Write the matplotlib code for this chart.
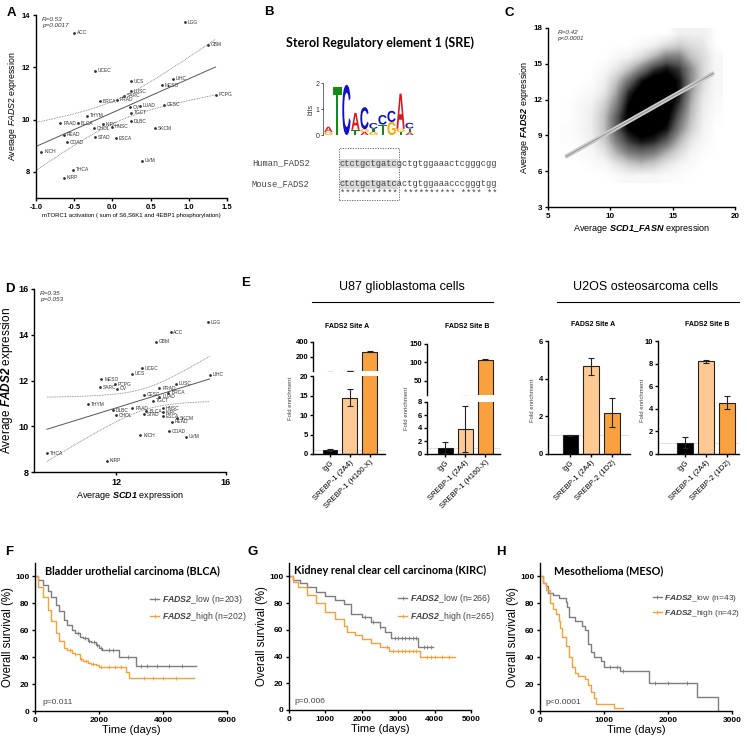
import numpy as np
import matplotlib
matplotlib.use('Agg')
import matplotlib.pyplot as plt
import matplotlib.transforms as mtransforms
from matplotlib.patches import Rectangle, PathPatch
from matplotlib.textpath import TextPath
from matplotlib.font_manager import FontProperties
from matplotlib.lines import Line2D

plt.rcParams['font.family'] = ['Liberation Sans', 'DejaVu Sans']
plt.rcParams['mathtext.fontset'] = 'custom'
plt.rcParams['mathtext.rm'] = 'Liberation Sans'
plt.rcParams['mathtext.it'] = 'Liberation Sans:italic'
plt.rcParams['mathtext.bf'] = 'Liberation Sans:bold'
plt.rcParams['mathtext.bfit'] = 'Liberation Sans:italic:bold'

# ---------------- data ----------------
# A: mTORC1 activation vs FADS2
a_names = ['ACC', 'LGG', 'GBM', 'UCEC', 'UCS', 'LIHC', 'MESO', 'LUSC', 'SARC', 'PRAD', 'BRCA',
           'PCPG', 'CESC', 'OV', 'LUAD', 'TGCT', 'THYM', 'DLBC', 'KIRC', 'BLCA', 'PAAD', 'CHOL',
           'HNSC', 'SKCM', 'READ', 'COAD', 'STAD', 'ESCA', 'KICH', 'UVM', 'THCA', 'KIRP']
a_x = [-0.50, 0.95, 1.25, -0.23, 0.24, 0.79, 0.65, 0.24, 0.15, 0.06, -0.16,
       1.35, 0.67, 0.23, 0.36, 0.24, -0.33, 0.24, -0.12, -0.45, -0.68, -0.24,
       -0.01, 0.56, -0.64, -0.59, -0.23, 0.05, -0.93, 0.39, -0.52, -0.64]
a_y = [13.33, 13.72, 12.87, 11.86, 11.47, 11.56, 11.32, 11.09, 10.91, 10.76, 10.71,
       10.94, 10.56, 10.47, 10.53, 10.27, 10.15, 9.94, 9.83, 9.85, 9.85, 9.67,
       9.73, 9.67, 9.41, 9.13, 9.32, 9.28, 8.77, 8.42, 8.08, 7.78]

# B: SRE motif logo (bottom -> top per position) and alignment
logo_cols = [
    [('G', 0.12), ('A', 0.2)],
    [('T', 1.85)],
    [('C', 1.93)],
    [('T', 0.2), ('A', 0.65)],
    [('A', 0.12), ('G', 0.1), ('C', 0.85)],
    [('G', 0.12), ('T', 0.12), ('C', 0.22)],
    [('T', 0.4), ('C', 0.37)],
    [('G', 0.5), ('C', 0.43)],
    [('T', 0.12), ('G', 0.12), ('A', 1.35)],
    [('A', 0.1), ('T', 0.15), ('C', 0.22)],
]
logo_colors = {'A': '#D7191C', 'C': '#1010C8', 'G': '#F5A800', 'T': '#138A13'}
seq_names = ['Human_FADS2', 'Mouse_FADS2']
seqs = ['ctctgctgatcgctgtggaaactcgggcgg', 'ctctgctgatcactgtggaaacccgggtgg']
sre_len = 11

# C: density of tumour samples (rows y=17.5 .. 5.5, cols x=6.5 .. 18.5)
c_density = [
    [0, 0, 0, 0, 0, 0, 0, 0, 0, 0.1, 0.1, 0.1, 0],
    [0, 0, 0, 0, 0, 0, 0.05, 0.1, 0.2, 0.25, 0.2, 0.15, 0],
    [0, 0, 0, 0, 0.05, 0.1, 0.2, 0.35, 0.5, 0.5, 0.3, 0.2, 0.05],
    [0, 0, 0, 0.05, 0.15, 0.3, 0.5, 0.7, 0.8, 0.7, 0.45, 0.2, 0.05],
    [0, 0, 0.02, 0.1, 0.3, 0.55, 0.8, 0.95, 0.95, 0.8, 0.45, 0.2, 0.05],
    [0, 0.02, 0.05, 0.15, 0.4, 0.75, 0.95, 1, 1, 0.8, 0.4, 0.15, 0.05],
    [0, 0.05, 0.1, 0.25, 0.5, 0.85, 1, 1, 0.95, 0.7, 0.35, 0.12, 0.03],
    [0, 0.05, 0.12, 0.3, 0.6, 0.9, 1, 1, 0.9, 0.6, 0.3, 0.1, 0.02],
    [0.02, 0.05, 0.12, 0.3, 0.6, 0.85, 0.95, 0.9, 0.8, 0.5, 0.25, 0.08, 0],
    [0.02, 0.03, 0.1, 0.25, 0.5, 0.7, 0.8, 0.75, 0.6, 0.35, 0.15, 0.05, 0],
    [0, 0.02, 0.05, 0.15, 0.35, 0.5, 0.55, 0.5, 0.35, 0.2, 0.08, 0.02, 0],
    [0, 0, 0.02, 0.05, 0.15, 0.25, 0.3, 0.25, 0.15, 0.08, 0.03, 0, 0],
    [0, 0, 0, 0, 0.03, 0.06, 0.05, 0.05, 0.03, 0.02, 0, 0, 0],
]
c_fit = [0.59, 3.43]      # slope, intercept
c_fit_range = [6.4, 18.3]

# D: SCD1 vs FADS2
d_names = ['LGG', 'ACC', 'GBM', 'UCEC', 'UCS', 'LIHC', 'MESO', 'PCPG', 'SARC', 'OV', 'THYM',
           'LUSC', 'PRAD', 'BRCA', 'CESC', 'LUAD', 'TGCT', 'DLBC', 'PAAD', 'BLCA', 'HNSC', 'KIRC',
           'CHOL', 'STAD', 'ESCA', 'SKCM', 'READ', 'COAD', 'KICH', 'UVM', 'THCA', 'KIRP']
d_x = [15.33, 13.98, 13.43, 12.94, 12.57, 15.40, 11.46, 11.94, 11.39, 12.04, 10.96,
       14.17, 13.57, 13.90, 13.02, 13.57, 13.35, 11.88, 12.59, 13.10, 13.69, 13.71,
       12.00, 13.00, 13.71, 14.20, 14.02, 13.93, 12.88, 14.54, 9.47, 11.66]
d_y = [14.54, 14.10, 13.69, 12.54, 12.29, 12.26, 12.05, 11.83, 11.70, 11.64, 10.97,
       11.85, 11.66, 11.47, 11.38, 11.29, 11.12, 10.71, 10.78, 10.66, 10.78, 10.61,
       10.49, 10.53, 10.44, 10.34, 10.20, 9.79, 9.61, 9.54, 8.81, 8.49]

# E: ChIP fold enrichment
e_labels_u87 = ['IgG', 'SREBP-1 (2A4)', 'SREBP-1 (H160-X)']
e_labels_u2os = ['IgG', 'SREBP-1 (2A4)', 'SREBP-2 (1D2)']
e_u87_a = [1.0, 14.4, 272]
e_u87_a_err = [0.3, 2.2, 12]
e_u87_b = [1.0, 3.85, 107]
e_u87_b_err = [0.9, 3.55, 1.2]
e_u2os_a = [1.0, 4.65, 2.2]
e_u2os_a_err = [0.03, 0.45, 0.75]
e_u2os_b = [1.0, 8.2, 4.55]
e_u2os_b_err = [0.5, 0.12, 0.6]
bar_colors = ['#000000', '#FFC994', '#F9A03F']

# F-H: Kaplan-Meier (time in days, survival %)
f_low_t = [0, 100, 250, 400, 500, 650, 750, 900, 1000, 1150, 1250, 1400, 1500, 1650, 1750, 1900, 2000, 2100, 2620, 3150, 5040]
f_low_s = [100, 97, 94, 89, 85, 79, 74, 68, 64, 60, 58, 55, 54, 52, 51, 49, 47, 45, 40, 33.5, 33.5]
f_high_t = [0, 100, 250, 400, 500, 650, 750, 900, 1000, 1150, 1250, 1400, 1500, 1650, 1750, 1900, 2000, 2840, 2940, 4960]
f_high_s = [100, 92, 85, 75, 67, 58, 52, 47, 45, 43, 42, 39, 37, 36, 35, 34, 33, 29, 24.5, 24.5]
f_low_cens = [1350, 1550, 1700, 1850, 1950, 2050, 2300, 2450, 2900, 3300, 3500, 3800, 4200, 4600]
f_high_cens = [1100, 1250, 1450, 1600, 1800, 2050, 2300, 2500, 2700, 3400, 3700, 4000, 4400]

g_low_t = [0, 100, 300, 500, 750, 1000, 1250, 1500, 1700, 2000, 2250, 2500, 2650, 2800, 3550, 3950]
g_low_s = [100, 97, 95, 92, 88, 85, 82, 79, 72, 69.5, 66, 62, 58, 54, 47.5, 47.5]
g_high_t = [0, 100, 250, 500, 750, 1000, 1250, 1500, 1600, 1800, 2000, 2250, 2500, 2750, 3600, 4550]
g_high_s = [100, 96, 92, 86, 80, 73, 68, 63, 58, 56, 53, 50, 47, 44, 40, 40]
g_low_cens = [2100, 2300, 2500, 2900, 3000, 3100, 3200, 3300, 3400, 3500, 3700, 3800, 3900]
g_high_cens = [2700, 2850, 3000, 3100, 3200, 3300, 3400, 3500, 3800, 3900, 4000, 4200, 4400]

h_low_t = [0, 50, 100, 120, 200, 300, 400, 420, 450, 550, 650, 700, 750, 800, 850, 950, 1000, 1250, 1700, 2450, 2780]
h_low_s = [100, 95, 93, 88, 86, 84, 81, 77, 70, 67, 63, 60, 50, 44, 40, 37, 33, 30, 21, 10.5, 0]
h_high_t = [0, 50, 100, 150, 200, 250, 300, 320, 350, 400, 450, 500, 550, 600, 700, 750, 800, 850, 880, 1150, 1300]
h_high_s = [100, 95, 90, 80, 76, 72, 67, 62, 55, 48, 40, 33, 28, 26, 24, 19, 14, 10, 5, 2.5, 2.5]
h_low_cens = [1100, 1200, 1300, 1800, 2000, 2300]
h_high_cens = []

GRAY = '#7d7d7d'
ORANGE = '#F7A03A'

# ---------------- helpers ----------------
W, H = 747, 743
fig = plt.figure(figsize=(W / 100, H / 100), dpi=100)


def add_ax(x0, y0, x1, y1):
    return fig.add_axes([x0 / W, 1 - y1 / H, (x1 - x0) / W, (y1 - y0) / H])


def ftext(x, y, s, **kw):
    return fig.text(x / W, 1 - y / H, s, **kw)


def style(ax, fs=5.5, lw=1.0, pad=1.5):
    for s in ['top', 'right']:
        ax.spines[s].set_visible(False)
    for s in ['left', 'bottom']:
        ax.spines[s].set_linewidth(lw)
    ax.tick_params(width=lw, length=2.5, labelsize=fs, pad=pad)
    for lab in ax.get_xticklabels() + ax.get_yticklabels():
        lab.set_fontweight('bold')


def fit_band(ax, x, y, xs, tval=2.04):
    x = np.asarray(x)
    y = np.asarray(y)
    b, a = np.polyfit(x, y, 1)
    res = y - (a + b * x)
    s = np.sqrt(np.sum(res ** 2) / (len(x) - 2))
    sxx = np.sum((x - x.mean()) ** 2)
    yh = a + b * xs
    se = s * np.sqrt(1 / len(x) + (xs - x.mean()) ** 2 / sxx)
    ax.plot(xs, yh, color='#555555', lw=0.7)
    ax.plot(xs, yh + tval * se, color='#777777', lw=0.6, ls=(0, (1, 1)))
    ax.plot(xs, yh - tval * se, color='#777777', lw=0.6, ls=(0, (1, 1)))


letter_font = FontProperties(family='Liberation Sans', weight='bold')


def logo_letter(ax, ch, x, y, h, color):
    tp = TextPath((0, 0), ch, size=1, prop=letter_font)
    bb = tp.get_extents()
    t = mtransforms.Affine2D().translate(-bb.x0, -bb.y0).scale(0.92 / bb.width, h / bb.height).translate(x - 0.46, y)
    ax.add_patch(PathPatch(t.transform_path(tp), fc=color, ec='none'))


# ---------------- panel letters ----------------
for lt, (px, py) in zip('ABCDEFGH', [(11, 13), (269, 12), (509, 13), (10, 289),
                                     (246, 283), (9, 552), (253, 552), (501, 552)]):
    ftext(px, py, lt, fontsize=9.5, fontweight='bold', ha='center', va='center')

# ---------------- A ----------------
ax = add_ax(36, 15, 227, 198)
ax.plot(a_x, a_y, 'o', ms=1.0, color='#333333')
for n, x, y in zip(a_names, a_x, a_y):
    ax.annotate(n, (x, y), xytext=(2, 0), textcoords='offset points', fontsize=3.5,
                va='center', color='#333333')
fit_band(ax, a_x, a_y, np.linspace(-1, max(a_x), 100))
ax.set_xlim(-1, 1.5)
ax.set_ylim(7, 14)
ax.set_xticks([-1.0, -0.5, 0.0, 0.5, 1.0, 1.5])
ax.set_yticks([8, 10, 12, 14])
ax.xaxis.set_major_formatter(matplotlib.ticker.FormatStrFormatter('%.1f'))
style(ax, fs=5.5)
ax.set_xlabel('mTORC1 activation ( sum of S6,S6K1 and 4EBP1 phosphorylation)', fontsize=4.3, labelpad=2)
ax.set_ylabel(r'Average $\mathit{FADS2}$ expression', fontsize=6.3, labelpad=2)
ax.text(0.03, 0.99, 'R=0.53\np=0.0017', transform=ax.transAxes, fontsize=4.6, style='italic',
        va='top', color='#333333', linespacing=1.3)

# ---------------- B ----------------
ftext(380, 43, 'Sterol Regulatory element 1 (SRE)', fontsize=9.0, fontweight='bold',
      family=['Lato', 'DejaVu Sans'], ha='center', va='center')
lax = add_ax(323, 83, 415, 135)
for i, col in enumerate(logo_cols):
    base = 0.0
    for ch, h in col:
        logo_letter(lax, ch, i + 1, base, h, logo_colors[ch])
        base += h
lax.set_xlim(0.4, 10.6)
lax.set_ylim(0, 2)
for s in ['top', 'right', 'bottom']:
    lax.spines[s].set_visible(False)
lax.spines['left'].set_color('#555555')
lax.spines['left'].set_linewidth(0.6)
lax.set_xticks([])
lax.set_yticks([0, 1, 2])
lax.tick_params(axis='y', labelsize=5, length=1.5, width=0.6, pad=1, colors='#333333')
lax.set_ylabel('bits', fontsize=5, labelpad=1, color='#333333')

mono = ['Liberation Mono', 'DejaVu Sans Mono']
mfs = 6.3
cw = mfs * 0.6 * 100 / 72
seq_x0 = 340
row_y = [163, 184]
for name, seq, yy in zip(seq_names, seqs, row_y):
    ftext(252, yy, name, family=mono, fontsize=mfs, color='#444444', va='center')
    fig.add_artist(Rectangle((seq_x0 / W, 1 - (yy + 4.5) / H), sre_len * cw / W, 9 / H,
                             transform=fig.transFigure, fc='#d9d9d9', ec='none', zorder=0))
    ftext(seq_x0, yy, seq, family=mono, fontsize=mfs, color='#444444', va='center')
stars = ''.join('*' if a == b else ' ' for a, b in zip(seqs[0], seqs[1]))
ftext(seq_x0, 194, stars, family=mono, fontsize=mfs, color='#444444', va='center')
fig.add_artist(Rectangle(((seq_x0 - 1) / W, 1 - 200 / H), (sre_len * cw + 2) / W, 52 / H,
                         transform=fig.transFigure, fill=False, ec='#555555', lw=0.6,
                         ls=(0, (1.5, 1.5))))

# ---------------- C ----------------
ax = add_ax(548, 28, 735, 207)
ax.imshow(np.array(c_density), extent=(6, 19, 5, 18), origin='upper', cmap='Greys',
          vmin=0, vmax=0.85, interpolation='bilinear', aspect='auto', zorder=1)
xs = np.array(c_fit_range)
ax.plot(xs, c_fit[0] * xs + c_fit[1], color='#cccccc', lw=3.2, zorder=2, solid_capstyle='butt')
ax.plot(xs, c_fit[0] * xs + c_fit[1], color='#8a8a8a', lw=0.6, zorder=3)
ax.set_xlim(5, 20)
ax.set_ylim(3, 18)
ax.set_xticks([5, 10, 15, 20])
ax.set_yticks([3, 6, 9, 12, 15, 18])
style(ax, fs=5.8)
ax.set_xlabel(r'Average $\mathbfit{SCD1\_FASN}$ expression', fontsize=6.5, labelpad=2)
ax.set_ylabel(r'Average $\mathbfit{FADS2}$ expression', fontsize=6.5, labelpad=2)
ax.text(0.05, 0.99, 'R=0.42\np<0.0001', transform=ax.transAxes, fontsize=4.6, style='italic',
        va='top', color='#333333', linespacing=1.3)

# ---------------- D ----------------
ax = add_ax(34, 289, 226, 472)
ax.plot(d_x, d_y, 'o', ms=1.0, color='#333333')
for n, x, y in zip(d_names, d_x, d_y):
    ax.annotate(n, (x, y), xytext=(2, 0), textcoords='offset points', fontsize=3.5,
                va='center', color='#333333')
fit_band(ax, d_x, d_y, np.linspace(min(d_x), max(d_x), 100))
ax.set_xlim(9, 16)
ax.set_ylim(8, 16)
ax.set_xticks([12, 16])
ax.set_yticks([8, 10, 12, 14, 16])
style(ax, fs=6.5)
ax.set_xlabel(r'Average $\mathbfit{SCD1}$ expression', fontsize=6.5, labelpad=2)
ax.set_ylabel(r'Average $\mathbfit{FADS2}$ expression', fontsize=8.5, labelpad=2)
ax.text(0.03, 0.99, 'R=0.35\np=0.053', transform=ax.transAxes, fontsize=4.6, style='italic',
        va='top', color='#333333', linespacing=1.3)

# ---------------- E ----------------
ftext(402, 287, 'U87 glioblastoma cells', fontsize=9, ha='center', va='center')
ftext(646, 287, 'U2OS osteosarcoma cells', fontsize=9, ha='center', va='center')
fig.add_artist(Line2D([312 / W, 493 / W], [1 - 302 / H] * 2, color='k', lw=0.8))
fig.add_artist(Line2D([557 / W, 739 / W], [1 - 302 / H] * 2, color='k', lw=0.8))


def draw_bars(ax, vals, errs, xlim):
    xpos = np.arange(len(vals))
    ax.axhline(1, color='#dddddd', lw=0.6, zorder=0)
    ax.bar(xpos, vals, width=0.75, color=bar_colors, edgecolor='#222222', lw=0.8, zorder=2)
    ax.errorbar(xpos, vals, yerr=errs, fmt='none', ecolor='#222222', elinewidth=0.8,
                capsize=2.2, capthick=0.8, zorder=3)
    ax.set_xlim(*xlim)


def bar_xlabels(ax, labels):
    ax.set_xticks(range(len(labels)))
    ax.set_xticklabels(labels, rotation=45, ha='right', rotation_mode='anchor', fontsize=3.8)


def broken(lower_box, upper_box, vals, errs, xlim, low_lim, up_lim, low_ticks, up_ticks, labels):
    lo = add_ax(*lower_box)
    up = add_ax(*upper_box)
    draw_bars(lo, vals, errs, xlim)
    draw_bars(up, vals, errs, xlim)
    lo.set_ylim(*low_lim)
    up.set_ylim(*up_lim)
    lo.set_yticks(low_ticks)
    up.set_yticks(up_ticks)
    bar_xlabels(lo, labels)
    up.set_xticks([])
    style(lo, fs=5.5, pad=1)
    style(up, fs=5.5, pad=1)
    up.spines['bottom'].set_visible(False)
    for lab in lo.get_xticklabels():
        lab.set_fontweight('normal')
    return lo, up


broken((313, 376, 385, 454), (313, 342, 385, 370.5), e_u87_a, e_u87_a_err, (-0.86, 2.78),
       (0, 20), (20, 400), [0, 5, 10, 15, 20], [200, 400], e_labels_u87)
broken((427, 402, 500, 454), (427, 344, 500, 395), e_u87_b, e_u87_b_err, (-0.9, 2.75),
       (0, 8), (11, 150), [0, 2, 4, 6, 8], [50, 100, 150], e_labels_u87)

for box, vals, errs, xlim, ylim, yt in [
        ((548, 341, 630, 454), e_u2os_a, e_u2os_a_err, (-1.07, 2.85), (0, 6), [0, 2, 4, 6]),
        ((658, 341, 739, 454), e_u2os_b, e_u2os_b_err, (-1.29, 2.57), (0, 10), [0, 2, 4, 6, 8, 10])]:
    ax = add_ax(*box)
    draw_bars(ax, vals, errs, xlim)
    ax.set_ylim(*ylim)
    ax.set_yticks(yt)
    bar_xlabels(ax, e_labels_u2os)
    style(ax, fs=5.5, pad=1)
    for lab in ax.get_xticklabels():
        lab.set_fontweight('normal')

for (tx, ty, t) in [(347, 327, 'FADS2 Site A'), (467, 327, 'FADS2 Site B'),
                    (593, 324, 'FADS2 Site A'), (707, 324, 'FADS2 Site B')]:
    ftext(tx, ty, t, fontsize=5, fontweight='bold', ha='center', va='center')
for (lx, ly) in [(291, 398), (407, 408), (533, 400), (643, 400)]:
    ftext(lx, ly, 'Fold enrichment', fontsize=4.3, color='#444444', rotation=90,
          ha='center', va='center')

# ---------------- F-H ----------------


def km(ax, t, s, cens, color):
    t = np.asarray(t)
    s = np.asarray(s)
    ax.step(t, s, where='post', color=color, lw=1.0)
    if len(cens):
        c = np.asarray(cens)
        cy = s[np.searchsorted(t, c, side='right') - 1]
        ax.plot(c, cy, '|', color=color, ms=2.5, mew=0.6)


surv_panels = [
    ((35, 563, 227, 711), 6000, [0, 2000, 4000, 6000], 'Bladder urothelial carcinoma (BLCA)',
     (0.05, 0.95, 'left'), 'p=0.011', (0.04, 0.055), (0.6, 0.80), 6.3, (203, 202),
     (f_low_t, f_low_s, f_low_cens), (f_high_t, f_high_s, f_high_cens)),
    ((289, 563, 471, 710), 5000, [0, 1000, 2000, 3000, 4000, 5000], 'Kidney renal clear cell carcinoma (KIRC)',
     (0.03, 0.95, 'left'), 'p=0.006', (0.03, 0.055), (0.6, 0.80), 6.3, (266, 265),
     (g_low_t, g_low_s, g_low_cens), (g_high_t, g_high_s, g_high_cens)),
    ((540, 563, 732, 711), 3000, [0, 1000, 2000, 3000], 'Mesothelioma (MESO)',
     (0.355, 0.95, 'center'), 'p<0.0001', (0.03, 0.055), (0.59, 0.80), 6.0, (43, 42),
     (h_low_t, h_low_s, h_low_cens), (h_high_t, h_high_s, h_high_cens)),
]

for box, xmax, xt, title, tpos, ptxt, ppos, lpos, lfs, ns, low, high in surv_panels:
    ax = add_ax(*box)
    km(ax, *low, GRAY)
    km(ax, *high, ORANGE)
    ax.set_xlim(0, xmax)
    ax.set_ylim(0, 110)
    ax.set_xticks(xt)
    ax.set_yticks([0, 20, 40, 60, 80, 100])
    style(ax, fs=6)
    ax.set_xlabel('Time (days)', fontsize=8, labelpad=1)
    ax.set_ylabel('Overall survival (%)', fontsize=8.3, labelpad=1)
    ax.text(tpos[0], tpos[1], title, transform=ax.transAxes, fontsize=7.8, fontweight='bold',
            family=['Lato', 'DejaVu Sans'], ha=tpos[2], va='center')
    ax.text(ppos[0], ppos[1], ptxt, transform=ax.transAxes, fontsize=6, color='#444444',
            va='center')
    handles = [Line2D([], [], color=GRAY, lw=1, marker='|', ms=3, mew=0.6),
               Line2D([], [], color=ORANGE, lw=1, marker='|', ms=3, mew=0.6)]
    labs = [r'$\mathbfit{FADS2}$_low (n=%d)' % ns[0], r'$\mathbfit{FADS2}$_high (n=%d)' % ns[1]]
    leg = ax.legend(handles, labs, loc='upper left', bbox_to_anchor=lpos, frameon=False,
                    fontsize=lfs, handlelength=1.0, handletextpad=0.3, labelspacing=0.55,
                    borderaxespad=0, borderpad=0)
    for tx in leg.get_texts():
        tx.set_color('#444444')

fig.savefig('out.png', dpi=100)
